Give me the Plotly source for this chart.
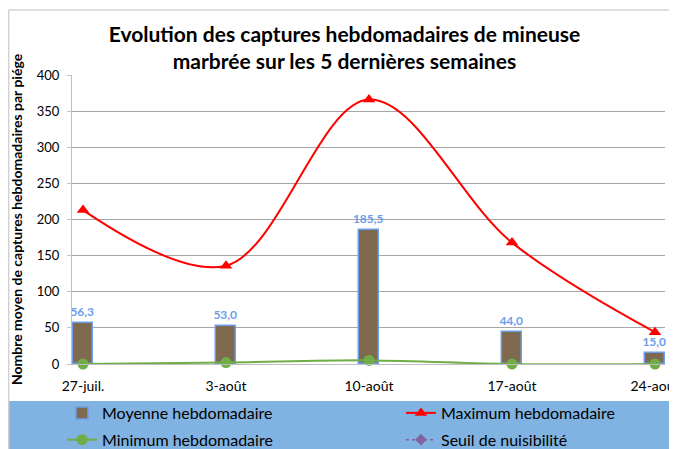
import plotly.graph_objects as go

categories = ["27-juil.", "3-août", "10-août", "17-août", "24-août"]
moyenne = [56.3, 53.0, 185.5, 44.0, 15.0]
maximum = [213, 136, 366, 168, 44]
minimum = [0, 2, 5, 0, 0]
seuil = [None, None, None, None, None]
y_ticks = [0, 50, 100, 150, 200, 250, 300, 350, 400]

FONT = "Lato"

labels = [f"{v:.1f}".replace(".", ",") for v in moyenne]

fig = go.Figure()
fig.add_trace(go.Bar(
    x=categories, y=moyenne, name="Moyenne hebdomadaire",
    width=0.14, legend="legend", legendgroup="a",
    marker=dict(color="#7f6a50", line=dict(color="#6d9eeb", width=1.5)),
    text=labels, textposition="outside", cliponaxis=False, constraintext="none",
    textfont=dict(family=FONT, size=12, color="#6d9eeb", weight="bold"),
))
fig.add_trace(go.Scatter(
    x=categories, y=maximum, name="Maximum hebdomadaire", mode="lines+markers",
    legend="legend2", legendgroup="c",
    line=dict(color="#ff0000", width=2, shape="spline", smoothing=1),
    marker=dict(symbol="triangle-up", size=11, color="#ff0000"),
    cliponaxis=False,
))
fig.add_trace(go.Scatter(
    x=categories, y=minimum, name="Minimum hebdomadaire", mode="lines+markers",
    legend="legend", legendgroup="b",
    line=dict(color="#70ad47", width=2, shape="spline", smoothing=1),
    marker=dict(symbol="circle", size=11, color="#70ad47"),
    cliponaxis=False,
))
fig.add_trace(go.Scatter(
    x=categories, y=seuil, name="Seuil de nuisibilité", mode="lines+markers",
    legend="legend2", legendgroup="d",
    line=dict(color="#7f5fa8", width=1.5, dash="dot"),
    marker=dict(symbol="diamond", size=9, color="#8064a2"),
))

# legend background band and chart border
fig.add_shape(type="rect", xref="paper", yref="paper",
              x0=-0.106, x1=1.06, y0=-0.40, y1=-0.128,
              fillcolor="#80b3e1", line=dict(width=0), layer="below")
fig.add_shape(type="rect", xref="paper", yref="paper",
              x0=-0.1066, x1=1.06, y0=-0.40, y1=1.225,
              fillcolor="rgba(0,0,0,0)", line=dict(color="#bfbfbf", width=1))

leg_common = dict(
    orientation="v", yanchor="top", y=0.1359, xref="paper", yref="container",
    bgcolor="rgba(0,0,0,0)", font=dict(family=FONT, size=16, color="#000000"),
    tracegroupgap=3, itemwidth=30,
)

fig.update_layout(
    width=677, height=449,
    margin=dict(l=64, r=20, t=67, b=93),
    paper_bgcolor="white", plot_bgcolor="white",
    font=dict(family=FONT, color="#000000"),
    title=dict(
        text="Evolution des captures hebdomadaires de mineuse<br>marbrée sur les 5 dernières semaines",
        x=0.497, xanchor="center", y=0.924, yanchor="middle",
        font=dict(family=FONT, size=21, color="#000000", weight="bold"),
    ),
    showlegend=True,
    legend=dict(x=-0.0169, xanchor="left", **leg_common),
    legend2=dict(x=0.5548, xanchor="left", **leg_common),
    xaxis=dict(
        type="category", range=[-0.077, 4.07], automargin=False,
        showgrid=False, showline=True, linecolor="#bfbfbf", linewidth=1,
        ticks="", tickfont=dict(family=FONT, size=14, color="#000000"),
        ticklabelstandoff=9, fixedrange=True,
    ),
    yaxis=dict(
        range=[0, 400], tickvals=y_ticks, automargin=False,
        showgrid=True, gridcolor="#a6a6a6", gridwidth=1,
        showline=True, linecolor="#bfbfbf", linewidth=1,
        ticks="outside", ticklen=4, tickcolor="#bfbfbf",
        tickfont=dict(family=FONT, size=13, color="#000000"),
        ticklabelstandoff=5,
        zeroline=False,
        title=dict(text="Nombre moyen de captures hebdomadaires par piége",
                   font=dict(family=FONT, size=14, color="#000000", weight="bold"),
                   standoff=16),
    ),
    bargap=0,
)

fig.write_html("out.html")
